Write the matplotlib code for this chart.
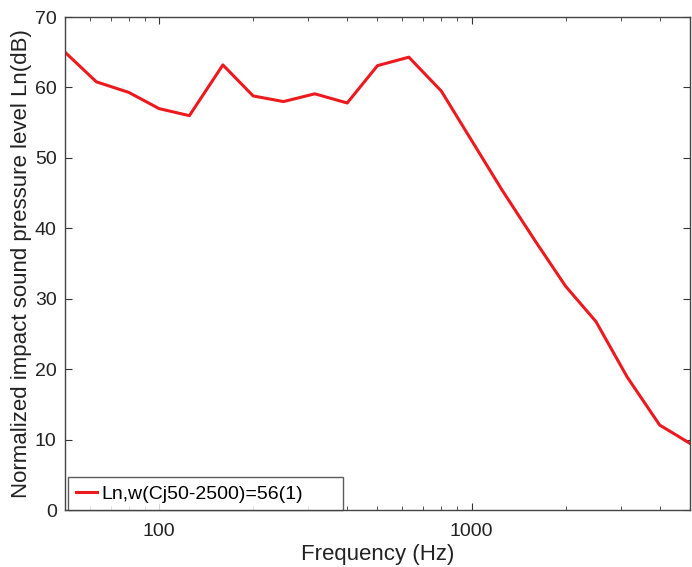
import matplotlib.pyplot as plt
from matplotlib.ticker import FixedLocator, NullFormatter

plt.rcParams['font.family'] = ['Liberation Sans', 'DejaVu Sans']

# third-octave band centre frequencies and measured levels
freqs = [50, 63, 80, 100, 125, 160, 200, 250, 315, 400, 500, 630, 800,
         1000, 1250, 1600, 2000, 2500, 3150, 4000, 5000]
levels = [65.0, 60.8, 59.3, 57.0, 56.0, 63.2, 58.8, 58.0, 59.1, 57.8, 63.1, 64.3, 59.5,
          52.5, 45.5, 38.2, 31.8, 26.8, 18.9, 12.1, 9.5]
legend_label = 'Ln,w(Cj50-2500)=56(1)'

fig = plt.figure(figsize=(6.92, 5.67), dpi=100)
ax = fig.add_axes([0.094, 0.1, 0.903, 0.87])

ax.plot(freqs, levels, color='#ec1a1f', linewidth=2.2, label=legend_label)

ax.set_xscale('log')
ax.set_xlim(50, 5000)
ax.set_ylim(0, 70)
ax.set_yticks(range(0, 71, 10))
ax.xaxis.set_major_locator(FixedLocator([100, 1000]))
ax.set_xticklabels(['100', '1000'])
ax.xaxis.set_minor_locator(FixedLocator([60, 70, 80, 90, 200, 300, 400, 500, 600, 700, 800, 900,
                                         2000, 3000, 4000]))
ax.xaxis.set_minor_formatter(NullFormatter())

ax.tick_params(which='both', direction='in', top=True, right=True, labelsize=14, colors='#333333',
               labelcolor='#222222')
ax.tick_params(which='major', length=5)
ax.tick_params(which='minor', length=3)
ax.tick_params(axis='x', which='major', pad=9)
ax.tick_params(axis='y', which='major', pad=6)
for s in ax.spines.values():
    s.set_color('#444444')
    s.set_linewidth(1.0)

ax.set_xlabel('Frequency (Hz)', fontsize=16, color='#222222', labelpad=3)
ax.set_ylabel('Normalized impact sound pressure level Ln(dB)', fontsize=16, color='#222222',
              labelpad=2)

leg = ax.legend(loc='lower left', bbox_to_anchor=(0.005, 0.0, 0.44, 0.065), mode='expand',
                fontsize=14, frameon=True, fancybox=False, handlelength=1.1,
                handletextpad=0.2, borderpad=0.4, borderaxespad=0.0)
leg.get_frame().set_edgecolor('#333333')
leg.get_frame().set_linewidth(1.0)

fig.savefig('out.png', dpi=100)
